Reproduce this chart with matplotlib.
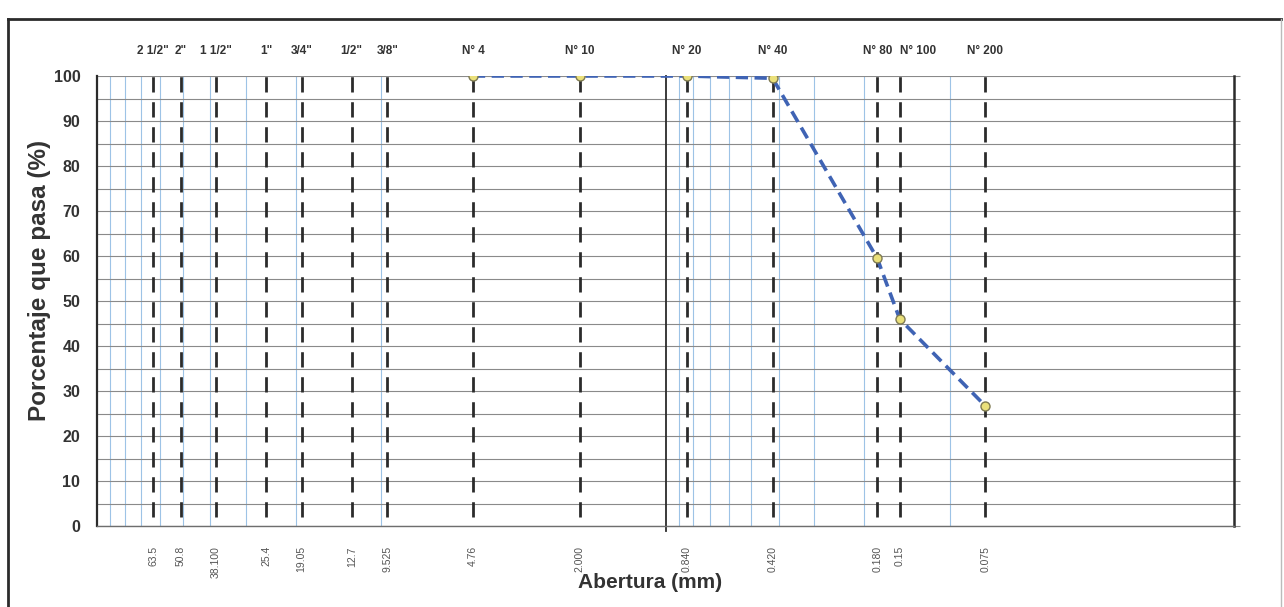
import matplotlib
matplotlib.use("Agg")
import matplotlib.pyplot as plt
from matplotlib.lines import Line2D
from matplotlib.ticker import FixedLocator, NullFormatter
import matplotlib.transforms as mtransforms

# sieve series (name, opening in mm, opening as printed)
SIEVE_NAMES = ['2 1/2"', '2"', '1 1/2"', '1"', '3/4"', '1/2"', '3/8"',
               "N° 4", "N° 10", "N° 20", "N° 40", "N° 80", "N° 100", "N° 200"]
SIEVE_MM = [63.5, 50.8, 38.1, 25.4, 19.05, 12.7, 9.525,
            4.76, 2.0, 0.84, 0.42, 0.18, 0.15, 0.075]
SIEVE_MM_TEXT = ["63.5", "50.8", "38.100", "25.4", "19.05", "12.7", "9.525",
                 "4.76", "2.000", "0.840", "0.420", "0.180", "0.15", "0.075"]

# grading curve
APERTURE = [4.76, 2.0, 0.84, 0.42, 0.18, 0.15, 0.075]
PASSING = [100, 100, 100, 99.5, 59.5, 46, 26.7]

BLUE_LINE = "#3F63B4"
GRID_BLUE = "#9DC3E6"
GRID_GRAY = "#8A8A8A"
DARK = "#2B2B2B"

plt.rcParams["font.family"] = ["Liberation Sans", "DejaVu Sans"]

fig = plt.figure(figsize=(12.84, 6.07), dpi=100, facecolor="white")
ax = fig.add_axes([97 / 1284, 1 - 526 / 607, (1234 - 97) / 1284, 450 / 607])

ax.set_xscale("log")
ax.set_xlim(100, 0.01)
ax.set_ylim(0, 100)

# horizontal grid every 5 %
ax.set_yticks(range(0, 101, 10))
ax.yaxis.set_minor_locator(FixedLocator(range(5, 100, 10)))
ax.grid(axis="y", which="both", color=GRID_GRAY, lw=0.8, zorder=1)
ax.set_xticks([])
ax.xaxis.set_minor_locator(FixedLocator([]))
ax.xaxis.set_minor_formatter(NullFormatter())

# blue minor verticals (only in the two decades Excel shows them)
for v in [k * 10 for k in range(1, 10)] + [k / 10 for k in range(1, 10)]:
    ax.axvline(v, color=GRID_BLUE, lw=0.8, zorder=1)
ax.axvline(1, color=DARK, lw=1.3, ymin=-0.01, zorder=2, clip_on=False)

# dashed sieve verticals
for s in SIEVE_MM:
    ax.vlines(s, 2, 100, colors=DARK, lw=2.0, linestyles=(0, (5.5, 3.5)), zorder=2)

# grading curve
ax.plot(APERTURE, PASSING, color=BLUE_LINE, lw=2.6, dashes=(3.4, 1.8),
        marker="o", markersize=6.5, markerfacecolor="#EAE07A",
        markeredgecolor="#7E7A52", markeredgewidth=1.0, zorder=4)

# sieve names on top, openings underneath
trans = mtransforms.blended_transform_factory(ax.transData, ax.transAxes)
for name, s, txt in zip(SIEVE_NAMES, SIEVE_MM, SIEVE_MM_TEXT):
    ha = "left" if name == "N° 100" else "center"
    ax.text(s, 1.055, name, transform=trans, ha=ha, va="center",
            fontsize=8.5, fontweight="bold", color="#333333")
    ax.text(s, -0.045, txt, transform=trans, ha="center", va="top",
            rotation=90, fontsize=7.5, color="#555555")

ax.spines["top"].set_visible(False)
ax.spines["left"].set_color(DARK)
ax.spines["left"].set_linewidth(1.6)
ax.spines["right"].set_color(DARK)
ax.spines["right"].set_linewidth(1.8)
ax.spines["bottom"].set_color("#6E6E6E")
ax.spines["bottom"].set_linewidth(1.0)

ax.tick_params(axis="y", which="major", left=False, right=True, length=4,
               color=GRID_GRAY, pad=8, labelsize=11.5, labelcolor="#333333")
ax.tick_params(axis="y", which="minor", left=False, right=True, length=4,
               color=GRID_GRAY)
for lab in ax.get_yticklabels():
    lab.set_fontweight("bold")

fig.text(40 / 1284, 1 - 280 / 607, "Porcentaje que pasa (%)", rotation=90,
         ha="center", va="center", fontsize=17.5, fontweight="bold",
         color="#333333")
fig.text(650 / 1284, 1 - 583 / 607, "Abertura (mm)", ha="center", va="center",
         fontsize=15, fontweight="bold", color="#333333")

# outer frame of the sheet
fig.add_artist(Line2D([8 / 1284, 8 / 1284], [0, 1 - 19 / 607],
                      transform=fig.transFigure, color=DARK, lw=2.0))
fig.add_artist(Line2D([8 / 1284, 1281 / 1284], [1 - 19 / 607, 1 - 19 / 607],
                      transform=fig.transFigure, color=DARK, lw=2.0))
fig.add_artist(Line2D([1281 / 1284, 1281 / 1284], [0, 1 - 19 / 607],
                      transform=fig.transFigure, color="#BBBBBB", lw=1.0))

fig.savefig("out.png", dpi=100, facecolor="white")
